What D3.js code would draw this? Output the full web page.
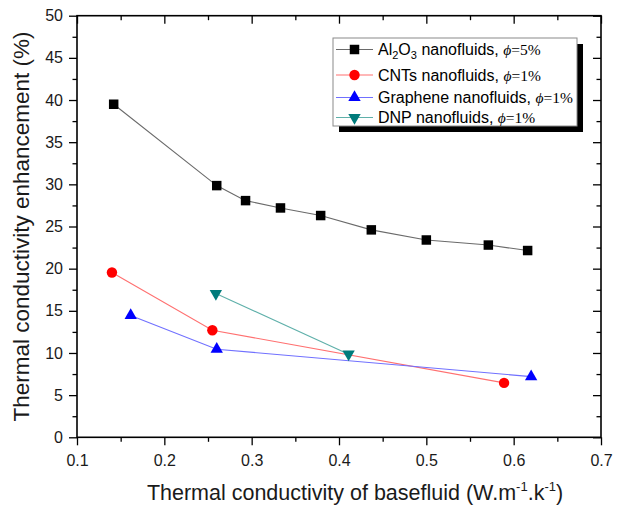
<!DOCTYPE html>
<html><head><meta charset="utf-8">
<script src="https://cdn.jsdelivr.net/npm/d3@7"></script>
<style>body{margin:0;background:#fff}</style>
</head><body>
<svg id="c" width="617" height="506"></svg>
<script>
const al2o3X = [0.142, 0.260, 0.293, 0.333, 0.379, 0.437, 0.500, 0.571, 0.616];
const al2o3Y = [39.5, 29.85, 28.07, 27.2, 26.3, 24.6, 23.4, 22.8, 22.15];
const cntX = [0.140, 0.255, 0.589];
const cntY = [19.55, 12.7, 6.45];
const grapheneX = [0.1615, 0.260, 0.620];
const grapheneY = [14.45, 10.45, 7.2];
const dnpX = [0.259, 0.411];
const dnpY = [17.05, 9.86];
const xTicks = [0.1, 0.2, 0.3, 0.4, 0.5, 0.6, 0.7];
const yTicks = [0, 5, 10, 15, 20, 25, 30, 35, 40, 45, 50];

const svg = d3.select("#c");
const L = 77, R = 601, T = 15.7, B = 437.3;
const x = d3.scaleLinear().domain([0.1, 0.7]).range([L, R]);
const y = d3.scaleLinear().domain([0, 50]).range([B, T]);
const xMinor = d3.range(0, 6).map(i => 0.15 + i * 0.1);
const yMinor = d3.range(0, 10).map(i => 2.5 + i * 5);
const fmtX = d3.format(".1f");

function axis(gen, pos, vals, size, labels, fmt, pad) {
  const g = svg.append("g").attr("transform", pos)
    .call(gen.tickValues(vals).tickSize(size).tickSizeOuter(0).tickPadding(pad || 5)
      .tickFormat(labels ? fmt : ""));
  g.select(".domain").remove();
  g.selectAll("line").attr("stroke", "#000").attr("stroke-width", 1.3);
  g.selectAll("text").attr("font-family", "Liberation Sans, Arial, sans-serif")
    .attr("font-size", 16).attr("fill", "#1a1a1a");
  return g;
}
// bottom (outward)
axis(d3.axisBottom(x), `translate(0,${B})`, xTicks, 8, true, fmtX, 9);
axis(d3.axisBottom(x), `translate(0,${B})`, xMinor, 4.5, false);
// top (inward)
axis(d3.axisBottom(x), `translate(0,${T})`, xTicks, 8, false);
axis(d3.axisBottom(x), `translate(0,${T})`, xMinor, 4.5, false);
// left (outward)
axis(d3.axisLeft(y), `translate(${L},0)`, yTicks, 8, true, d3.format("d"), 6);
axis(d3.axisLeft(y), `translate(${L},0)`, yMinor, 4.5, false);
// right (inward)
axis(d3.axisLeft(y), `translate(${R},0)`, yTicks, 8, false);
axis(d3.axisLeft(y), `translate(${R},0)`, yMinor, 4.5, false);

svg.append("rect").attr("x", L).attr("y", T).attr("width", R - L).attr("height", B - T)
  .attr("fill", "none").attr("stroke", "#000").attr("stroke-width", 1.6);

const series = [
  {xs: al2o3X, ys: al2o3Y, line: "#6a6a6a", fill: "#000", shape: d3.symbolSquare, size: 90},
  {xs: cntX, ys: cntY, line: "#ff7070", fill: "#ff0000", shape: d3.symbolCircle, size: 85},
  {xs: grapheneX, ys: grapheneY, line: "#7070ff", fill: "#0000ff", shape: d3.symbolTriangle, size: 66},
  {xs: dnpX, ys: dnpY, line: "#5fb0aa", fill: "#007b7b", shape: d3.symbolTriangle, size: 66, flip: true}
];
const line = d3.line();
series.forEach(s => {
  const pts = s.xs.map((v, i) => [x(v), y(s.ys[i])]);
  svg.append("path").attr("d", line(pts)).attr("fill", "none")
    .attr("stroke", s.line).attr("stroke-width", 1.1);
  svg.append("g").selectAll("path").data(pts).join("path")
    .attr("transform", d => `translate(${d[0]},${d[1]})${s.flip ? " rotate(180)" : ""}`)
    .attr("d", d3.symbol().type(s.shape).size(s.size)).attr("fill", s.fill);
});

// legend
const lg = svg.append("g");
lg.append("rect").attr("x", 339).attr("y", 44).attr("width", 244).attr("height", 88).attr("fill", "#000");
lg.append("rect").attr("x", 333).attr("y", 38).attr("width", 244).attr("height", 88)
  .attr("fill", "#fff").attr("stroke", "#8a8a8a").attr("stroke-width", 1);
const rowsY = [49.5, 75, 97.5, 117.5];
const names = [["Al", "2", "O", "3", " nanofluids, "], ["CNTs nanofluids, "], ["Graphene nanofluids, "], ["DNP nanofluids, "]];
const phis = ["=5%", "=1%", "=1%", "=1%"];
series.forEach((s, i) => {
  const yy = rowsY[i];
  lg.append("line").attr("x1", 336).attr("x2", 373).attr("y1", yy).attr("y2", yy)
    .attr("stroke", s.line).attr("stroke-width", 1.1);
  lg.append("path").attr("transform", `translate(354.5,${yy})${s.flip ? " rotate(180)" : ""}`)
    .attr("d", d3.symbol().type(s.shape).size(s.size)).attr("fill", s.fill);
  const t = lg.append("text").attr("x", 378).attr("y", yy + 5.5)
    .attr("font-family", "Liberation Sans, Arial, sans-serif").attr("font-size", 16).attr("fill", "#000");
  const n = names[i];
  if (n.length > 1) {
    t.append("tspan").text(n[0]);
    t.append("tspan").text(n[1]).attr("font-size", 11).attr("dy", 4);
    t.append("tspan").text(n[2]).attr("dy", -4);
    t.append("tspan").text(n[3]).attr("font-size", 11).attr("dy", 4);
    t.append("tspan").text(n[4]).attr("dy", -4);
  } else t.append("tspan").text(n[0]);
  t.append("tspan").text("ϕ").attr("font-family", "Liberation Serif, Times New Roman, serif")
    .attr("font-style", "italic").attr("font-size", 15.5);
  t.append("tspan").text(phis[i]).attr("font-family", "Liberation Serif, Times New Roman, serif")
    .attr("font-size", 15.5);
});

// axis titles
svg.append("text").attr("transform", `translate(29,${(T + B) / 2}) rotate(-90)`)
  .attr("text-anchor", "middle").attr("font-family", "Liberation Sans, Arial, sans-serif")
  .attr("font-size", 22.5).attr("fill", "#1a1a1a").text("Thermal conductivity enhancement (%)");
const xt = svg.append("text").attr("x", 355).attr("y", 500).attr("text-anchor", "middle")
  .attr("font-family", "Liberation Sans, Arial, sans-serif").attr("font-size", 21.5).attr("fill", "#1a1a1a");
xt.append("tspan").text("Thermal conductivity of basefluid (W.m");
xt.append("tspan").text("-1").attr("font-size", 13).attr("dy", -9);
xt.append("tspan").text(".k").attr("dy", 9);
xt.append("tspan").text("-1").attr("font-size", 13).attr("dy", -9);
xt.append("tspan").text(")").attr("dy", 9);
</script>
</body></html>
